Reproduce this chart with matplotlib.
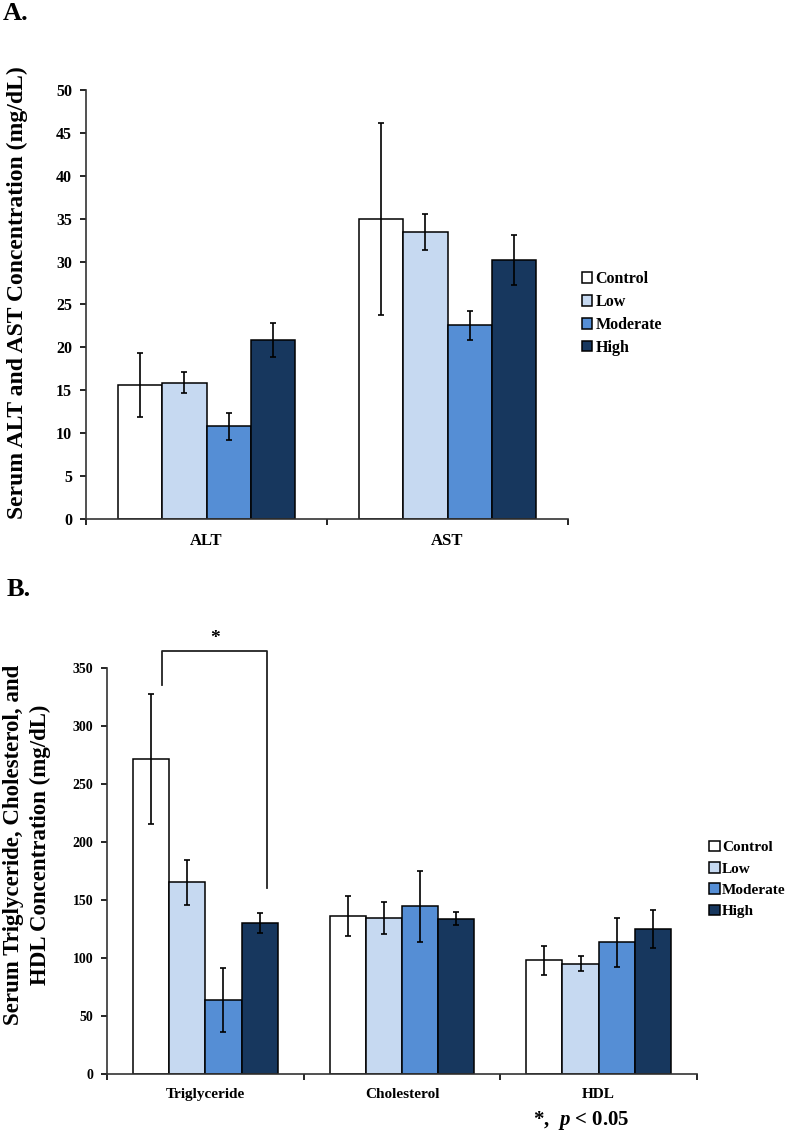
import matplotlib
matplotlib.use('Agg')
import matplotlib.pyplot as plt
import numpy as np

# serum enzyme and lipid values
groups = ['Control', 'Low', 'Moderate', 'High']
colors = ['#FFFFFF', '#C6D9F1', '#558ED5', '#17375E']

enz_labels = ['ALT', 'AST']
enz_mean = {'Control': [15.6, 35.0], 'Low': [15.9, 33.4],
            'Moderate': [10.8, 22.6], 'High': [20.9, 30.2]}
enz_err = {'Control': [3.7, 11.2], 'Low': [1.2, 2.1],
           'Moderate': [1.6, 1.7], 'High': [2.0, 2.9]}

lip_labels = ['Triglyceride', 'Cholesterol', 'HDL']
lip_mean = {'Control': [271.3, 136.0, 98.0], 'Low': [165.3, 134.8, 95.2],
            'Moderate': [63.8, 144.5, 113.4], 'High': [130.4, 133.8, 125.0]}
lip_err = {'Control': [56.0, 17.4, 12.3], 'Low': [19.5, 13.7, 6.1],
           'Moderate': [27.8, 30.6, 21.4], 'High': [8.5, 5.7, 16.2]}

plt.rcParams['font.family'] = ['Liberation Serif', 'DejaVu Serif']
plt.rcParams['font.weight'] = 'bold'
plt.rcParams['mathtext.fontset'] = 'custom'
plt.rcParams['mathtext.it'] = 'Liberation Serif:italic:bold'
plt.rcParams['mathtext.rm'] = 'Liberation Serif:bold'

fig = plt.figure(figsize=(7.87, 11.32), dpi=100)
W, H = 787, 1132


def axes_px(left, right, top, bottom):
    return fig.add_axes([left / W, 1 - bottom / H, (right - left) / W, (bottom - top) / H])


def bars(ax, labels, means, errs, width, xsize, ysize):
    x = np.arange(len(labels))
    for i, g in enumerate(groups):
        pos = x + (i - 1.5) * width
        ax.bar(pos, means[g], width, color=colors[i], edgecolor='black', linewidth=1.1,
               label=g, zorder=2)
        ax.errorbar(pos, means[g], yerr=errs[g], fmt='none', ecolor='black',
                    elinewidth=1.2, capsize=2.2, capthick=1.2, zorder=3)
    ax.set_xlim(-0.5, len(labels) - 0.5)
    ax.set_xticks(x)
    ax.set_xticklabels(labels, fontsize=xsize, fontweight='bold')
    ax.set_xticks(np.arange(len(labels) + 1) - 0.5, minor=True)
    ax.tick_params(axis='x', which='major', length=0, pad=10)
    ax.tick_params(axis='x', which='minor', length=4, width=1.2, direction='out')
    ax.tick_params(axis='y', length=4, width=1.2, direction='out', labelsize=ysize, pad=6)
    for lab in ax.get_yticklabels():
        lab.set_fontweight('bold')
    for s in ['top', 'right']:
        ax.spines[s].set_visible(False)
    for s in ['left', 'bottom']:
        ax.spines[s].set_linewidth(1.2)
        ax.spines[s].set_color('#333333')


# panel A
axA = axes_px(86, 568, 90, 519)
bars(axA, enz_labels, enz_mean, enz_err, 0.183, 12, 11.5)
axA.set_ylim(0, 50)
axA.set_yticks(range(0, 51, 5))
fig.text(17 / W, 1 - 293 / H, 'Serum ALT and AST Concentration (mg/dL)', rotation=90,
         fontsize=17, fontweight='bold', ha='center', va='center')
fig.text(3 / W, 1 - 20 / H, 'A.', fontsize=19, fontweight='bold', va='baseline')
axA.legend(loc='center left', bbox_to_anchor=(582 / W, 1 - 313.5 / H),
           bbox_transform=fig.transFigure, frameon=False,
           handlelength=0.65, handleheight=0.65, handletextpad=0.2,
           labelspacing=0.42, borderpad=0, borderaxespad=0,
           prop={'weight': 'bold', 'size': 11.5})

# panel B
axB = axes_px(107, 697, 668, 1074)
bars(axB, lip_labels, lip_mean, lip_err, 0.184, 11, 10)
axB.set_ylim(0, 350)
axB.set_yticks(range(0, 351, 50))
fig.text(27 / W, 1 - 845 / H, 'Serum Triglyceride, Cholesterol, and\nHDL Concentration (mg/dL)',
         rotation=90, fontsize=16.5, fontweight='bold', ha='center', va='center',
         linespacing=1.4, multialignment='center')
fig.text(7 / W, 1 - 596 / H, 'B.', fontsize=19, fontweight='bold', va='baseline')
axB.legend(loc='center left', bbox_to_anchor=(709 / W, 1 - 879.5 / H),
           bbox_transform=fig.transFigure, frameon=False,
           handlelength=0.7, handleheight=0.7, handletextpad=0.15,
           labelspacing=0.5, borderpad=0, borderaxespad=0,
           prop={'weight': 'bold', 'size': 11})

# significance bracket between Control and High triglyceride
bx = [-0.219, -0.219, 0.316, 0.316]
by = [335, 365, 365, 160]
axB.plot(bx, by, color='#222222', linewidth=1.3, clip_on=False, zorder=4)
axB.text(0.05, 368, '*', ha='center', va='bottom', fontsize=14, fontweight='bold')

fig.text(581 / W, 1 - 1120 / H, r'*,  $p$ < 0.05', ha='center', va='center',
         fontsize=15, fontweight='bold')

fig.savefig('out.png', dpi=100)
